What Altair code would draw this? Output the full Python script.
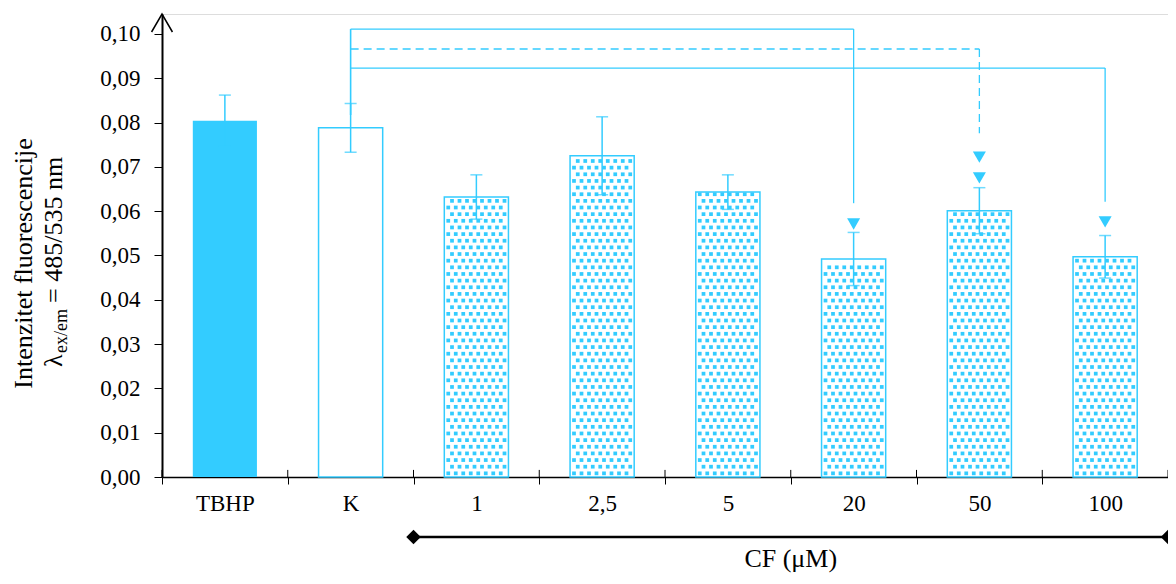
import altair as alt
import pandas as pd

# ---- data ----
categories = ["TBHP", "K", "1", "2,5", "5", "20", "50", "100"]
means = [0.0804, 0.0788, 0.0632, 0.0725, 0.0643, 0.0492, 0.0601, 0.0497]
errors = [0.0058, 0.0055, 0.0050, 0.0088, 0.0039, 0.0060, 0.0052, 0.0048]
pattern_cats = ["1", "2,5", "5", "20", "50", "100"]

# significance brackets (from K to the marked group)
br_targets = ["20", "50", "100"]
br_levels = [0.1011, 0.0966, 0.0923]
br_ends = [0.0618, 0.0776, 0.0621]
br_dashed = [False, True, False]
br_k_bottom = 0.0817
tri_cats = ["20", "50", "50", "100"]
tri_vals = [0.0571, 0.0722, 0.0675, 0.0576]

CYAN = "#33CCFF"
FONT = "Liberation Serif"
YMAX = 0.1045

df = pd.DataFrame({"cat": categories, "mean": means, "err": errors})
df["lo"] = df["mean"] - df["err"]
df["hi"] = df["mean"] + df["err"]

xs = alt.Scale(domain=categories, paddingInner=0, paddingOuter=0)
ys = alt.Scale(domain=[0, YMAX])

x_axis = alt.Axis(title=None, labelAngle=0, labelFont=FONT, labelFontSize=23,
                  labelColor="black", labelPadding=8, tickBand="extent",
                  tickSize=7, tickColor="black", tickWidth=1,
                  domainColor="black", domainWidth=1.5, grid=False)
y_axis = alt.Axis(title=None, values=[i / 100 for i in range(11)],
                  labelExpr="replace(format(datum.value, '.2f'), '.', ',')",
                  labelFont=FONT, labelFontSize=23, labelColor="black",
                  labelPadding=14, tickSize=8, tickColor="black", tickWidth=1,
                  domainColor="black", domainWidth=2, grid=False)


def X(field="cat", **kw):
    return alt.X(f"{field}:N", scale=xs, axis=x_axis, sort=categories, **kw)


def Y(field, **kw):
    return alt.Y(f"{field}:Q", scale=ys, axis=y_axis, **kw)


base = alt.Chart(df)

bar_tbhp = base.transform_filter(alt.datum.cat == "TBHP").mark_bar(
    width=alt.RelativeBandSize(0.51), color=CYAN
).encode(x=X(), y=Y("mean"))

bar_k = base.transform_filter(alt.datum.cat == "K").mark_bar(
    width=alt.RelativeBandSize(0.51), fill="white", stroke=CYAN, strokeWidth=1.5
).encode(x=X(), y=Y("mean"))

bar_pat = base.transform_filter(
    alt.FieldOneOfPredicate(field="cat", oneOf=pattern_cats)
).mark_bar(
    width=alt.RelativeBandSize(0.51), fill="white", stroke=CYAN, strokeWidth=1.5
).encode(x=X(), y=Y("mean"))

# dotted texture inside the patterned bars (one layer per texture column)
NCOL = 16
tex = []
step_y = 0.0015
for c, v in zip(categories, means):
    if c not in pattern_cats:
        continue
    r = 0
    while (r + 0.55) * step_y < v - 0.0004:
        for col in range(NCOL):
            if (col + r) % 2 == 0:
                tex.append({"cat": c, "col": col, "yy": (r + 0.55) * step_y})
        r += 1
tex_df = pd.DataFrame(tex)
texture_layers = []
for col in range(NCOL):
    texture_layers.append(
        alt.Chart(tex_df).transform_filter(alt.datum.col == col).mark_square(
            size=14, color=CYAN, opacity=1, xOffset=(col - (NCOL - 1) / 2) * 3.75
        ).encode(x=X(), y=Y("yy"))
    )

err_rule = base.mark_rule(color=CYAN, strokeWidth=1.5).encode(
    x=X(), y=Y("lo"), y2="hi:Q")
err_top = base.mark_tick(color=CYAN, size=12, thickness=1.5).encode(x=X(), y=Y("hi"))
err_bot = base.mark_tick(color=CYAN, size=12, thickness=1.5).encode(x=X(), y=Y("lo"))

# brackets
h_df = pd.DataFrame({"a": ["K"] * 3, "b": br_targets, "lvl": br_levels,
                     "end": br_ends, "dash": br_dashed})
h_solid = alt.Chart(h_df).transform_filter("!datum.dash").mark_rule(
    color=CYAN, strokeWidth=1.3).encode(x=X("a"), x2="b:N", y=Y("lvl"))
h_dash = alt.Chart(h_df).transform_filter("datum.dash").mark_rule(
    color=CYAN, strokeWidth=1.3, strokeDash=[8, 5]).encode(x=X("a"), x2="b:N", y=Y("lvl"))
v_solid = alt.Chart(h_df).transform_filter("!datum.dash").mark_rule(
    color=CYAN, strokeWidth=1.3).encode(x=X("b"), y=Y("lvl"), y2="end:Q")
v_dash = alt.Chart(h_df).transform_filter("datum.dash").mark_rule(
    color=CYAN, strokeWidth=1.3, strokeDash=[8, 5]).encode(x=X("b"), y=Y("lvl"), y2="end:Q")
k_df = pd.DataFrame({"a": ["K"], "top": [max(br_levels)], "bot": [br_k_bottom]})
v_k = alt.Chart(k_df).mark_rule(color=CYAN, strokeWidth=1.6).encode(
    x=X("a"), y=Y("top"), y2="bot:Q")

tri_df = pd.DataFrame({"cat": tri_cats, "v": tri_vals})
tris = alt.Chart(tri_df).mark_point(shape="triangle-down", size=170, filled=True,
                                    color=CYAN, opacity=1).encode(x=X(), y=Y("v"))

# upward half of the x ticks
stub_df = pd.DataFrame({"cat": categories, "y0": [0.0] * 8, "y1": [0.0016] * 8})
stubs = alt.Chart(stub_df).mark_rule(color="black", strokeWidth=1).encode(
    x=X(bandPosition=0), y=Y("y0"), y2="y1:Q")
stub_end = alt.Chart(stub_df.tail(1)).mark_rule(color="black", strokeWidth=1).encode(
    x=X(bandPosition=1), y=Y("y0"), y2="y1:Q")

# arrow head on the y axis
arrow = alt.Chart(pd.DataFrame({"a": [0]})).mark_point(
    shape="M -0.58 1 L 0 0 L 0.58 1", size=1296, filled=False, color="black",
    strokeWidth=1.5, opacity=1).encode(x=alt.value(0), y=alt.value(0))

# CF range line below the axis
cf_y = -0.01354
cf_df = pd.DataFrame({"a": ["1"], "b": ["100"], "y": [cf_y]})
cf_line = alt.Chart(cf_df).mark_rule(color="black", strokeWidth=2.5).encode(
    x=X("a", bandPosition=0), x2=alt.X2("b:N", bandPosition=1), y=Y("y"))
cf_d1 = alt.Chart(cf_df).mark_point(shape="diamond", size=210, filled=True,
                                    color="black", opacity=1).encode(
    x=X("a", bandPosition=0), y=Y("y"))
cf_d2 = alt.Chart(cf_df).mark_point(shape="diamond", size=210, filled=True,
                                    color="black", opacity=1).encode(
    x=X("b", bandPosition=1), y=Y("y"))
cf_txt_df = pd.DataFrame({"cat": ["20"], "y": [-0.0203], "t": ["CF (μM)"]})
cf_text = alt.Chart(cf_txt_df).mark_text(font=FONT, fontSize=26, color="black",
                                         baseline="alphabetic").encode(
    x=X(bandPosition=0), y=Y("y"), text="t:N")

# y axis title (two lines, with subscript)
one = pd.DataFrame({"a": [0]})
t1 = alt.Chart(one).mark_text(text="Intenzitet fluorescencije", angle=270, font=FONT,
                              fontSize=26, color="black", align="center",
                              baseline="alphabetic").encode(x=alt.value(-130), y=alt.value(249.5))
t2a = alt.Chart(one).mark_text(text="λ", angle=270, font=FONT, fontSize=26,
                               color="black", align="left",
                               baseline="alphabetic").encode(x=alt.value(-100), y=alt.value(353))
t2b = alt.Chart(one).mark_text(text="ex/em", angle=270, font=FONT, fontSize=18,
                               color="black", align="left",
                               baseline="alphabetic").encode(x=alt.value(-95), y=alt.value(339))
t2c = alt.Chart(one).mark_text(text="= 485/535 nm", angle=270, font=FONT, fontSize=26,
                               color="black", align="left",
                               baseline="alphabetic").encode(x=alt.value(-100), y=alt.value(289))

chart = alt.layer(
    bar_tbhp, bar_k, bar_pat, *texture_layers, err_rule, err_top, err_bot,
    v_k, h_solid, h_dash, v_solid, v_dash, tris, stubs, stub_end, arrow,
    cf_line, cf_d1, cf_d2, cf_text, t1, t2a, t2b, t2c,
).properties(
    width=1006, height=463,
    padding={"left": 154, "top": 6, "right": 0, "bottom": 99},
    autosize=alt.AutoSizeParams(type="none"),
).configure_view(stroke=None).configure(background="white")

chart.save("out.html", embed_options={"renderer": "svg", "actions": False})
